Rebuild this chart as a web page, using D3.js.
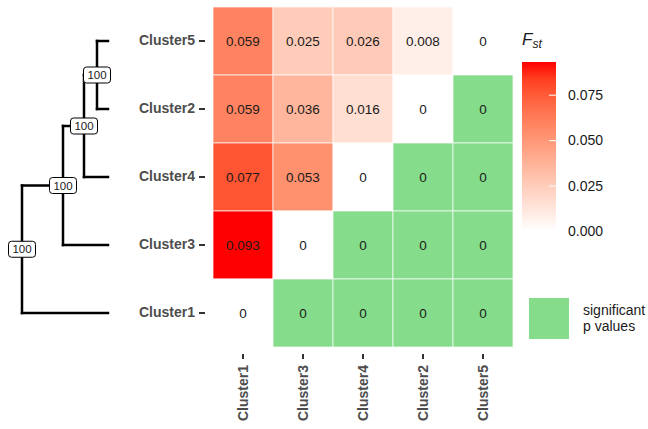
<!DOCTYPE html>
<html>
<head>
<meta charset="utf-8">
<script src="https://cdn.jsdelivr.net/npm/d3@7"></script>
<style>
  body { margin: 0; background: #fff; }
  text { font-family: "Liberation Sans", Arial, sans-serif; }
</style>
</head>
<body>
<div id="mainDiv"></div>
<script>
// heatmap data
const rowLabels = ["Cluster5", "Cluster2", "Cluster4", "Cluster3", "Cluster1"];
const colLabels = ["Cluster1", "Cluster3", "Cluster4", "Cluster2", "Cluster5"];
const fstValues = [
  [0.059, 0.025, 0.026, 0.008, 0],
  [0.059, 0.036, 0.016, 0, 0],
  [0.077, 0.053, 0, 0, 0],
  [0.093, 0, 0, 0, 0],
  [0, 0, 0, 0, 0],
];
const significant = [
  [0, 0, 0, 0, 0],
  [0, 0, 0, 0, 1],
  [0, 0, 0, 1, 1],
  [0, 0, 1, 1, 1],
  [0, 1, 1, 1, 1],
];
const legendTicks = [0, 0.025, 0.05, 0.075];
const fstMax = 0.093;

// dendrogram: merges in order, each joins the previous cluster with one leaf
const mergeLeaves = [["Cluster5", "Cluster2"], ["Cluster4"], ["Cluster3"], ["Cluster1"]];
const mergeHeights = [11, 24, 45, 86];
const mergeSupport = [100, 100, 100, 100];

const chartSize = { width: 648, height: 429 };
const grid = { left: 213, right: 513, top: 7, bottom: 347 };
const greenFill = "#85dc8a";
const axisTextColor = "#4d4d4d";

const svg = d3.select("#mainDiv")
  .append("svg")
  .attr("width", chartSize.width)
  .attr("height", chartSize.height);

const x = d3.scaleBand().domain(colLabels).range([grid.left, grid.right]);
const y = d3.scaleBand().domain(rowLabels).range([grid.top, grid.bottom]);
const fill = d3.scaleLinear().domain([0, fstMax]).range(["white", "red"])
  .interpolate(d3.interpolateLab);

let cells = [];
rowLabels.forEach((r, i) => colLabels.forEach((c, j) => {
  cells.push({ row: r, col: c, value: fstValues[i][j], sig: significant[i][j] });
}));

const cellG = svg.append("g");
cellG.selectAll("rect")
  .data(cells)
  .join("rect")
  .attr("x", d => x(d.col))
  .attr("y", d => y(d.row))
  .attr("width", x.bandwidth())
  .attr("height", y.bandwidth())
  .attr("fill", d => d.sig ? greenFill : fill(d.value))
  .attr("stroke", "white")
  .attr("stroke-opacity", 0.7)
  .attr("stroke-width", 1);

cellG.selectAll("text")
  .data(cells)
  .join("text")
  .attr("x", d => x(d.col) + x.bandwidth() / 2)
  .attr("y", d => y(d.row) + y.bandwidth() / 2)
  .attr("dy", "0.35em")
  .attr("text-anchor", "middle")
  .attr("font-size", 13.5)
  .attr("fill", "#1a1a1a")
  .text(d => d.value === 0 ? "0" : d.value.toFixed(3));

// axes
const yAxis = g => g
  .attr("transform", `translate(${grid.left - 8},0)`)
  .call(d3.axisLeft(y).tickSize(6).tickPadding(4))
  .call(g => g.select(".domain").remove())
  .call(g => g.selectAll("line").attr("stroke", "#333").attr("stroke-width", 2))
  .call(g => g.selectAll("text")
    .attr("font-size", 14).attr("font-weight", "bold").attr("fill", axisTextColor)
    .attr("font-family", "Liberation Sans, Arial, sans-serif"));
svg.append("g").call(yAxis);

const xAxis = g => g
  .attr("transform", `translate(0,${grid.bottom + 7})`)
  .call(d3.axisBottom(x).tickSize(5).tickPadding(6))
  .call(g => g.select(".domain").remove())
  .call(g => g.selectAll("line").attr("stroke", "#333").attr("stroke-width", 2))
  .call(g => g.selectAll("text")
    .attr("font-size", 14).attr("font-weight", "bold").attr("fill", axisTextColor)
    .attr("font-family", "Liberation Sans, Arial, sans-serif")
    .attr("text-anchor", "end")
    .attr("transform", "rotate(-90)")
    .attr("x", -11).attr("y", 0).attr("dy", "0.35em"));
svg.append("g").call(xAxis);

// dendrogram
const hx = d3.scaleLinear().domain([0, d3.max(mergeHeights)]).range([108, 22]);
const leafY = name => y(name) + y.bandwidth() / 2;

let lines = [];
let nodes = [];
let prev = null;
mergeLeaves.forEach((leaves, i) => {
  let children = leaves.map(n => ({ x: hx(0), y: leafY(n) }));
  if (prev) children.unshift(prev);
  let nx = hx(mergeHeights[i]);
  let ys = children.map(c => c.y);
  let node = { x: nx, y: (d3.min(ys) + d3.max(ys)) / 2, support: mergeSupport[i] };
  lines.push([[nx, d3.min(ys)], [nx, d3.max(ys)]]);
  children.forEach(c => lines.push([[nx, c.y], [c.x, c.y]]));
  nodes.push(node);
  prev = node;
});

const treeG = svg.append("g");
treeG.selectAll("path")
  .data(lines)
  .join("path")
  .attr("d", d3.line())
  .attr("stroke", "black")
  .attr("stroke-width", 2.5)
  .attr("stroke-linecap", "square")
  .attr("fill", "none");

const labelG = treeG.selectAll("g.node")
  .data(nodes)
  .join("g")
  .attr("class", "node")
  .attr("transform", d => `translate(${d.x},${d.y})`);
labelG.append("rect")
  .attr("x", -13.5).attr("y", -8)
  .attr("width", 27).attr("height", 16)
  .attr("rx", 3)
  .attr("fill", "white")
  .attr("stroke", "black")
  .attr("stroke-width", 1);
labelG.append("text")
  .attr("text-anchor", "middle")
  .attr("dy", "0.35em")
  .attr("font-size", 11.5)
  .attr("fill", "#1a1a1a")
  .text(d => d.support);

// colour bar legend
const bar = { x: 522, width: 34 };
const legY = d3.scaleLinear().domain([0, fstMax]).range([231, 62]);
const grad = svg.append("defs").append("linearGradient")
  .attr("id", "fstGrad")
  .attr("x1", 0).attr("y1", 1).attr("x2", 0).attr("y2", 0);
d3.range(0, 1.0001, 0.1).forEach(t => {
  grad.append("stop")
    .attr("offset", t)
    .attr("stop-color", fill(t * fstMax));
});
svg.append("rect")
  .attr("x", bar.x).attr("y", legY(fstMax))
  .attr("width", bar.width).attr("height", legY(0) - legY(fstMax))
  .attr("fill", "url(#fstGrad)");

svg.append("g")
  .attr("transform", `translate(${bar.x + bar.width},0)`)
  .call(d3.axisRight(legY).tickValues(legendTicks).tickFormat(d3.format(".3f"))
    .tickSizeInner(-7).tickSizeOuter(0).tickPadding(12))
  .call(g => g.select(".domain").remove())
  .call(g => g.selectAll("line").attr("stroke", "white").attr("stroke-width", 1))
  .call(g => g.selectAll("text").attr("font-size", 14).attr("fill", "#1a1a1a")
    .attr("font-family", "Liberation Sans, Arial, sans-serif"));

const title = svg.append("text")
  .attr("x", bar.x)
  .attr("y", 45)
  .attr("font-style", "italic")
  .attr("font-size", 17)
  .attr("fill", "#1a1a1a");
title.append("tspan").text("F");
title.append("tspan").attr("font-size", 12).attr("dy", 3).text("st");

// significant key
svg.append("rect")
  .attr("x", 529).attr("y", 298)
  .attr("width", 40).attr("height", 41)
  .attr("fill", greenFill);
const keyText = svg.append("text")
  .attr("font-size", 14)
  .attr("fill", "#1a1a1a");
keyText.append("tspan").attr("x", 583).attr("y", 315).text("significant");
keyText.append("tspan").attr("x", 583).attr("y", 331).text("p values");
</script>
</body>
</html>
